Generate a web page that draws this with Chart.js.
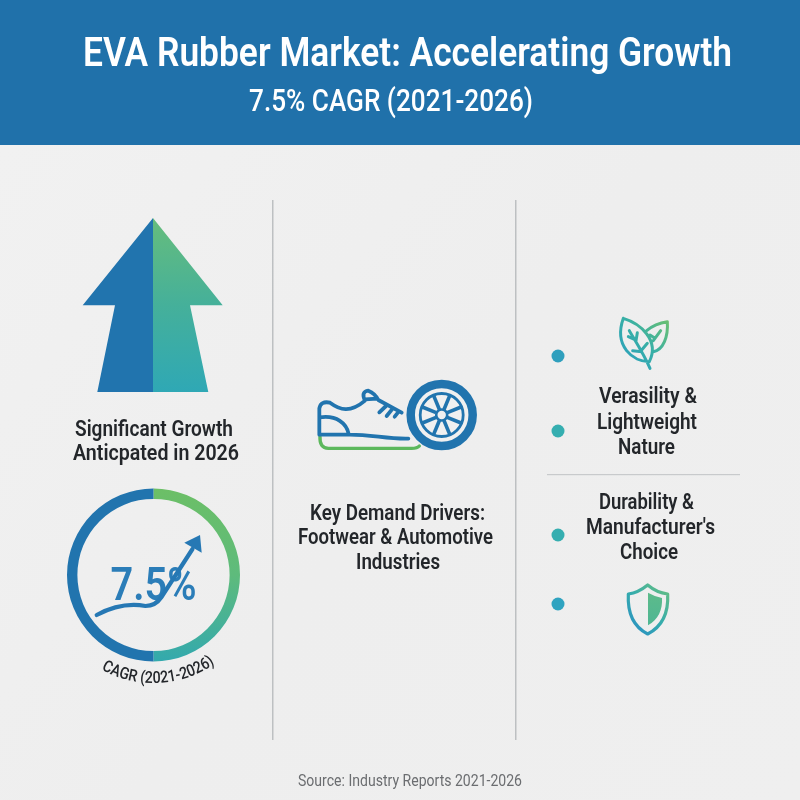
<!DOCTYPE html>
<html>
<head>
<meta charset="utf-8">
<style>html,body{margin:0;padding:0;background:#f0f0f0}#wrap{position:relative;width:800px;height:800px}canvas{display:block}</style>
<script src="https://cdn.jsdelivr.net/npm/chart.js@4"></script>
</head>
<body>
<div id="wrap"><canvas id="c" width="800" height="800"></canvas></div>
<script>
const ringLabels = ['Second half', 'First half'];
const ringValues = [50, 50];
const cagrLabel = '7.5%';
const titleText = 'EVA Rubber Market: Accelerating Growth';
const subtitleText = '7.5% CAGR (2021-2026)';
const arcText = 'CAGR (2021-2026)';
const sourceText = 'Source: Industry Reports 2021-2026';
const leftLines = ['Significant Growth', 'Anticpated in 2026'];
const middleLines = ['Key Demand Drivers:', 'Footwear & Automotive', 'Industries'];
const rightTopLines = ['Verasility &', 'Lightweight', 'Nature'];
const rightBottomLines = ['Durability &', "Manufacturer's", 'Choice'];

const BLUE = '#2174ae', INK = '#23262a';

function text(ctx, s, x0, x1, base, size, weight, color) {
  ctx.save();
  ctx.font = weight + ' ' + size + 'px Roboto';
  ctx.textAlign = 'left'; ctx.textBaseline = 'alphabetic';
  ctx.fillStyle = color;
  const w = ctx.measureText(s).width;
  ctx.translate(x0, base);
  ctx.scale((x1 - x0) / w, 1);
  ctx.fillText(s, 0, 0);
  ctx.restore();
}
function grad(ctx, x0, y0, x1, y1, stops) {
  const g = ctx.createLinearGradient(x0, y0, x1, y1);
  stops.forEach((s, i) => g.addColorStop(i / (stops.length - 1), s));
  return g;
}
function poly(ctx, pts, fill) {
  ctx.beginPath();
  pts.forEach((p, i) => i ? ctx.lineTo(p[0], p[1]) : ctx.moveTo(p[0], p[1]));
  ctx.closePath(); ctx.fillStyle = fill; ctx.fill();
}
function stroke(ctx, col, w, fn) {
  ctx.save(); ctx.strokeStyle = col; ctx.lineWidth = w; ctx.lineCap = 'round'; ctx.lineJoin = 'round';
  ctx.beginPath(); fn(ctx); ctx.stroke(); ctx.restore();
}

function drawBackdrop(ctx) {
  ctx.fillStyle = grad(ctx, 0, 145, 800, 800, ['#f1f1f1', '#eeeeee', '#efefef']);
  ctx.fillRect(0, 0, 800, 800);
  ctx.fillStyle = '#2071aa';
  ctx.fillRect(0, 0, 800, 145);

  text(ctx, titleText, 83, 732, 66, 41, 600, '#ffffff');
  text(ctx, subtitleText, 249, 533, 111, 31.5, 500, '#ffffff');

  ctx.fillStyle = '#bdc0c2';
  ctx.fillRect(272, 200, 1.5, 540);
  ctx.fillRect(515, 200, 1.5, 540);
  ctx.fillStyle = '#c8cacc';
  ctx.fillRect(547, 474, 193, 1.2);

  // big arrow
  poly(ctx, [[153, 218], [82.7, 305.3], [115, 305.3], [97.3, 392], [153, 392]], BLUE);
  poly(ctx, [[153, 218], [222.7, 305.3], [190, 305.3], [208.3, 392], [153, 392]],
    grad(ctx, 0, 218, 0, 392, ['#66bd7c', '#45b09a', '#2fa8b5']));

  [[leftLines, [[75, 233, 436], [73, 239, 460]]],
   [middleLines, [[310, 485, 520], [298, 493, 544], [356, 440, 569]]],
   [rightTopLines, [[599, 697, 403], [597, 697, 429], [618, 675, 454]]],
   [rightBottomLines, [[599, 694, 509], [586, 715, 534], [620, 678, 559]]]
  ].forEach(([lines, pos]) => lines.forEach((l, i) => text(ctx, l, pos[i][0], pos[i][1], pos[i][2], 22.5, 600, INK)));

  text(ctx, sourceText, 298, 522, 786, 16.5, 400, '#6b6d70');

  // dots
  [[558, 356, '#2f9fbd'], [558, 431, '#35aeb0'], [558, 535, '#35aeb0'], [558, 604, '#2fa3c0']].forEach(d => {
    ctx.beginPath(); ctx.arc(d[0], d[1], 6.5, 0, Math.PI * 2); ctx.fillStyle = d[2]; ctx.fill();
  });

  drawShoe(ctx); drawLeaf(ctx); drawShield(ctx);
}

function drawShoe(ctx) {
  const X = v => 300 + v / 3, Y = v => 360 + v / 3;
  stroke(ctx, '#5cb85c', 3.4, c => {
    c.moveTo(X(60), Y(230)); c.quadraticCurveTo(X(58), Y(264), X(85), Y(265));
    c.lineTo(X(335), Y(265)); c.quadraticCurveTo(X(352), Y(265), X(358), Y(258));
  });
  stroke(ctx, BLUE, 3.8, c => {
    c.moveTo(X(325), Y(236));
    c.bezierCurveTo(X(260), Y(238), X(210), Y(222), X(140), Y(224));
    c.lineTo(X(58), Y(224));
    c.lineTo(X(58), Y(145));
    c.quadraticCurveTo(X(62), Y(122), X(90), Y(128));
    c.bezierCurveTo(X(120), Y(150), X(150), Y(160), X(195), Y(122));
    c.quadraticCurveTo(X(182), Y(95), X(205), Y(92));
    c.quadraticCurveTo(X(225), Y(100), X(235), Y(120));
    c.lineTo(X(305), Y(158));
    c.moveTo(X(195), Y(118)); c.lineTo(X(232), Y(116));
    c.moveTo(X(60), Y(172)); c.bezierCurveTo(X(110), Y(165), X(140), Y(190), X(146), Y(222));
    c.moveTo(X(238), Y(157)); c.lineTo(X(258), Y(138));
    c.moveTo(X(260), Y(168)); c.lineTo(X(276), Y(148));
    c.moveTo(X(284), Y(170)); c.lineTo(X(296), Y(155));
  });
  const cx = 441.7, cy = 415;
  ctx.save();
  ctx.beginPath(); ctx.arc(cx, cy, 35, 0, Math.PI * 2); ctx.fillStyle = '#f0f0f0'; ctx.fill();
  ctx.strokeStyle = BLUE;
  ctx.lineWidth = 8.5; ctx.beginPath(); ctx.arc(cx, cy, 31, 0, Math.PI * 2); ctx.stroke();
  ctx.lineWidth = 2.8; ctx.beginPath(); ctx.arc(cx, cy, 21.5, 0, Math.PI * 2); ctx.stroke();
  ctx.lineWidth = 2.6; ctx.beginPath(); ctx.arc(cx, cy, 5.5, 0, Math.PI * 2); ctx.stroke();
  ctx.lineWidth = 3.6;
  for (let i = 0; i < 8; i++) {
    const a = Math.PI / 8 + i * Math.PI / 4;
    ctx.beginPath();
    ctx.moveTo(cx + 6 * Math.cos(a), cy + 6 * Math.sin(a));
    ctx.lineTo(cx + 21 * Math.cos(a), cy + 21 * Math.sin(a));
    ctx.stroke();
  }
  ctx.restore();
}

function drawLeaf(ctx) {
  const X = v => 540 + v / 3, Y = v => 310 + v / 3;
  const g = grad(ctx, 622, 360, 668, 320, ['#2ba0bd', '#39b0a5', '#6cc070']);
  stroke(ctx, g, 3, c => {
    c.moveTo(X(250), Y(25));
    c.bezierCurveTo(X(300), Y(40), X(360), Y(90), X(328), Y(155));
    c.bezierCurveTo(X(280), Y(155), X(220), Y(110), X(250), Y(25));
    c.moveTo(X(320), Y(62));
    c.quadraticCurveTo(X(345), Y(40), X(382), Y(35));
    c.bezierCurveTo(X(385), Y(80), X(370), Y(120), X(340), Y(125));
    c.moveTo(X(268), Y(62)); c.bezierCurveTo(X(290), Y(100), X(310), Y(130), X(330), Y(175));
    c.moveTo(X(288), Y(92)); c.lineTo(X(292), Y(68));
    c.moveTo(X(283), Y(88)); c.lineTo(X(265), Y(80));
    c.moveTo(X(305), Y(120)); c.lineTo(X(322), Y(100));
    c.moveTo(X(305), Y(125)); c.lineTo(X(278), Y(122));
    c.moveTo(X(340), Y(92)); c.lineTo(X(362), Y(62));
    c.moveTo(X(345), Y(85)); c.lineTo(X(330), Y(75));
  });
}

function drawShield(ctx) {
  const X = v => 540 + v / 3, Y = v => 520 + v / 3;
  const g = grad(ctx, 628, 630, 668, 590, ['#2a8fc4', '#35acad', '#62bd85']);
  stroke(ctx, g, 3.2, c => {
    c.moveTo(X(323), Y(195));
    c.quadraticCurveTo(X(295), Y(218), X(265), Y(222));
    c.bezierCurveTo(X(262), Y(280), X(280), Y(320), X(323), Y(342));
    c.bezierCurveTo(X(366), Y(320), X(386), Y(280), X(383), Y(222));
    c.quadraticCurveTo(X(350), Y(218), X(323), Y(195));
    c.closePath();
  });
  ctx.beginPath();
  ctx.moveTo(X(324), Y(218));
  ctx.quadraticCurveTo(X(345), Y(230), X(366), Y(234));
  ctx.bezierCurveTo(X(368), Y(270), X(355), Y(298), X(324), Y(316));
  ctx.closePath();
  ctx.fillStyle = grad(ctx, 0, 592, 0, 626, ['#5dbb8a', '#4fb694']);
  ctx.fill();
}

const overlay = {
  id: 'overlay',
  beforeDraw(chart) { drawBackdrop(chart.ctx); },
  afterDraw(chart) {
    const ctx = chart.ctx, arc = chart.getDatasetMeta(0).data[0];
    const cx = arc.x, cy = arc.y;
    text(ctx, cagrLabel, cx - 43, cx + 43, cy + 25, 46, 600, '#2b7db8');
    stroke(ctx, '#2678b4', 4.2, c => {
      c.moveTo(cx - 56.8, cy + 40);
      c.bezierCurveTo(cx - 40, cy + 31, cx - 25, cy + 28, cx - 8, cy + 31);
      c.quadraticCurveTo(cx + 2, cy + 31, cx + 8, cy + 22);
      c.lineTo(cx + 39, cy - 26);
    });
    poly(ctx, [[cx + 46.5, cy - 40], [cx + 30.8, cy - 32.3], [cx + 48.2, cy - 22.3]], '#2678b4');
    // curved caption
    ctx.save();
    ctx.font = '500 16.5px Roboto';
    ctx.fillStyle = INK; ctx.textAlign = 'center'; ctx.textBaseline = 'alphabetic';
    const R = 108, sx = 0.86, chars = [...arcText];
    const widths = chars.map(ch => ctx.measureText(ch).width * sx);
    const total = widths.reduce((a, b) => a + b, 0);
    let pos = -total / 2;
    chars.forEach((ch, i) => {
      const mid = pos + widths[i] / 2;
      const a = Math.PI / 2 - (mid / R) - 0.05;
      ctx.save();
      ctx.translate(cx + R * Math.cos(a), cy + R * Math.sin(a));
      ctx.rotate(a - Math.PI / 2);
      ctx.scale(sx, 1);
      ctx.fillText(ch, 0, 0);
      ctx.restore();
      pos += widths[i];
    });
    ctx.restore();
  }
};

new Chart(document.getElementById('c'), {
  type: 'doughnut',
  data: {
    labels: ringLabels,
    datasets: [{
      data: ringValues,
      borderWidth: 0,
      backgroundColor: ctx => ctx.dataIndex === 1 ? BLUE
        : grad(ctx.chart.ctx, 0, 488, 0, 662, ['#6cbf66', '#5ebb7c', '#33a9ae'])
    }]
  },
  options: {
    responsive: false,
    animation: false,
    devicePixelRatio: 1,
    cutout: '88%',
    layout: { padding: { left: 67, right: 560, top: 488.5, bottom: 138.5 } },
    plugins: { legend: { display: false }, tooltip: { enabled: false }, title: { display: false } }
  },
  plugins: [overlay]
});
</script>
</body>
</html>
